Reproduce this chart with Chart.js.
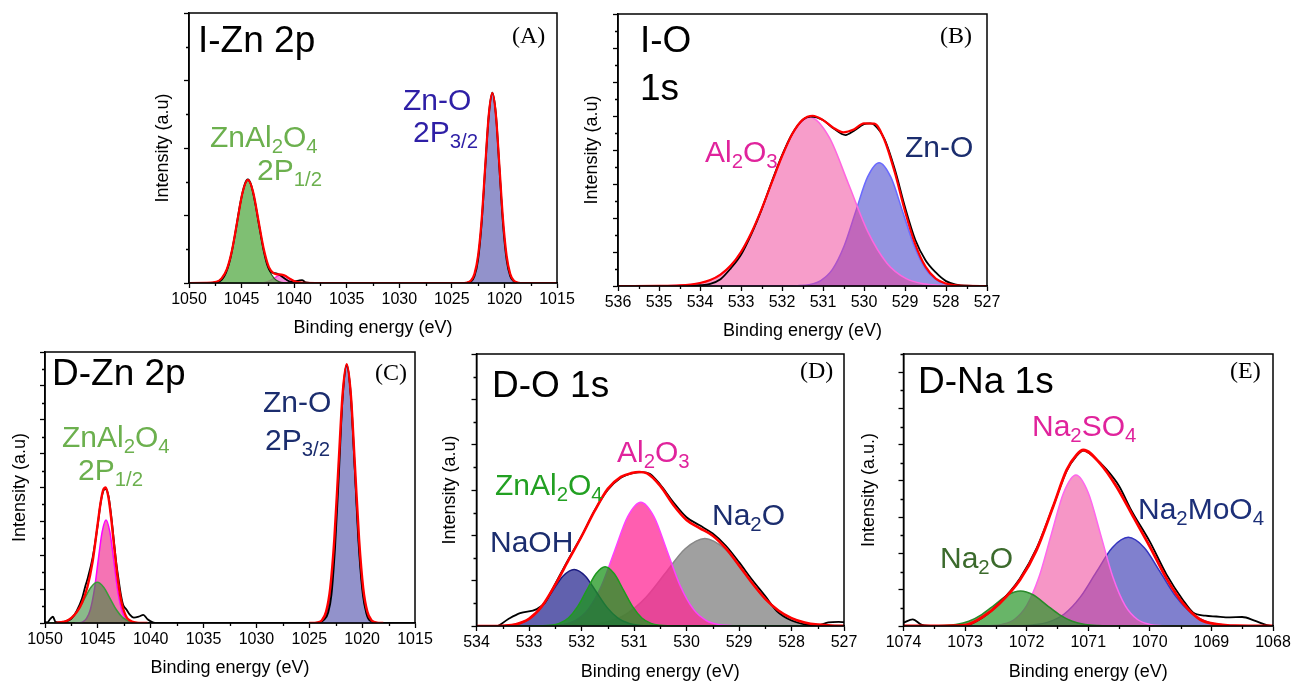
<!DOCTYPE html>
<html><head><meta charset="utf-8">
<script src="https://cdn.jsdelivr.net/npm/chart.js@4/dist/chart.umd.min.js"></script>
<style>
html,body{margin:0;padding:0;background:#fff;width:1293px;height:684px;overflow:hidden}
canvas{position:absolute;left:0;top:0}
</style></head><body>
<canvas id="cA" width="1293" height="684"></canvas>
<canvas id="cB" width="1293" height="684"></canvas>
<canvas id="cC" width="1293" height="684"></canvas>
<canvas id="cD" width="1293" height="684"></canvas>
<canvas id="cE" width="1293" height="684"></canvas>
<script>
// ---------- Panel A : I-Zn 2p (binding energy eV, intensity a.u. as % of frame) ----------
const A_xTicks = [1050,1045,1040,1035,1030,1025,1020,1015];
const A_xMinor = [1047.5,1042.5,1037.5,1032.5,1027.5,1022.5,1017.5];
const A_yTicks = [0,25,50,75,100];
const A_yMinor = [12.5,37.5,62.5,87.5];
const A_ZnAl2O4 = [[1048.4,0],[1047.9,0.1],[1047.4,0.4],[1046.9,1.7],[1046.4,5.1],[1045.9,12.3],[1045.4,23.0],[1044.9,33.5],[1044.4,38],[1043.9,33.5],[1043.4,23.0],[1042.9,12.3],[1042.4,5.1],[1041.9,1.7],[1041.4,0.4],[1040.9,0.1],[1040.4,0]];
const A_minorPeak = [[1043.3,0],[1042.6,0.4],[1041.9,1.8],[1041.55,2.65],[1041.2,3],[1040.85,2.65],[1040.5,1.8],[1039.8,0.4],[1039.1,0]];
const A_ZnO = [[1023.87,0],[1023.53,0.15],[1023.19,0.8],[1022.85,3.1],[1022.51,9.5],[1022.17,22.7],[1021.83,42.5],[1021.49,61.8],[1021.15,70],[1020.81,61.8],[1020.47,42.5],[1020.13,22.7],[1019.79,9.5],[1019.45,3.1],[1019.11,0.8],[1018.77,0.15],[1018.43,0]];
const A_fit = [[1050,0],[1048.4,0.05],[1047.4,0.4],[1046.9,1.7],[1046.4,5.1],[1045.9,12.3],[1045.4,23.1],[1044.9,33.6],[1044.4,38.2],[1043.9,33.7],[1043.4,23.3],[1042.9,12.8],[1042.4,5.9],[1041.9,3.5],[1041.55,3.2],[1041.2,3.1],[1040.85,2.7],[1040.5,1.8],[1039.8,0.4],[1039.1,0.05],[1038,0],[1024.2,0],[1023.53,0.2],[1023.19,0.9],[1022.85,3.4],[1022.51,10.0],[1022.17,23.3],[1021.83,43.0],[1021.49,62.2],[1021.15,70.3],[1020.81,62.2],[1020.47,43.0],[1020.13,23.3],[1019.79,10.0],[1019.45,3.4],[1019.11,0.9],[1018.77,0.2],[1018.1,0],[1015,0]];
const A_data = [[1050,0],[1048,0],[1047.2,0.4],[1046.6,2.8],[1046.1,8.5],[1045.6,18.5],[1045.1,30],[1044.7,36.6],[1044.4,38.4],[1044.1,36.5],[1043.7,29.5],[1043.3,20.5],[1042.9,12],[1042.5,6],[1042.1,3.8],[1041.7,3.6],[1041.3,2.8],[1040.8,1.4],[1040.3,0.5],[1039.6,0.9],[1039.25,1.1],[1038.9,0.2],[1038,0],[1023.6,0],[1023.2,0.5],[1022.85,2.5],[1022.51,8.5],[1022.17,22],[1021.83,42.5],[1021.49,62],[1021.15,70.5],[1020.81,62.5],[1020.47,42],[1020.13,21.5],[1019.79,8.5],[1019.45,2.5],[1019.11,0.6],[1018.7,0],[1015,0]];

// ---------- Panel B : I-O 1s ----------
const B_xTicks = [536,535,534,533,532,531,530,529,528,527];
const B_xMinor = [535.5,534.5,533.5,532.5,531.5,530.5,529.5,528.5,527.5];
const B_yTicks = [0,12.5,25,37.5,50,62.5,75,87.5,100];
const B_yMinor = [6.25,18.75,31.25,43.75,56.25,68.75,81.25,93.75];
const B_Al2O3 = [[536,0],[535.08,0.02],[534.61,0.14],[534.14,0.7],[533.67,2.7],[533.2,8.4],[532.73,20.1],[532.26,37.6],[531.79,54.7],[531.32,62],[530.85,54.7],[530.38,37.6],[529.91,20.1],[529.44,8.4],[528.97,2.7],[528.5,0.7],[528.03,0.14],[527.56,0.02],[527,0]];
const B_ZnO = [[536,0],[532.5,0],[531.91,0.01],[531.625,0.1],[531.34,0.5],[531.055,2.0],[530.77,6.1],[530.485,14.7],[530.2,27.5],[529.915,40.0],[529.63,45.3],[529.345,40.0],[529.06,27.5],[528.775,14.7],[528.49,6.1],[528.205,2.0],[527.92,0.5],[527.635,0.1],[527.35,0.01],[527,0]];
const B_fit = [[536,0],[535,0.03],[534.5,0.2],[534,1.1],[533.75,2.2],[533.5,4.2],[533.25,7.5],[533,12.5],[532.75,19.5],[532.5,28.2],[532.25,38],[532,47.7],[531.75,55.9],[531.5,61.1],[531.25,62.6],[531,61],[530.75,58.2],[530.5,56.5],[530.25,57.5],[530,59.8],[529.75,59.7],[529.5,53.6],[529.25,41.8],[529,27.5],[528.75,15.3],[528.5,7.1],[528.25,2.7],[528,0.9],[527.75,0.2],[527.5,0.05],[527,0]];
const B_data = [[536,0],[534.5,0],[534,0.3],[533.75,0.8],[533.5,2.5],[533.25,6.5],[533,11.5],[532.75,19],[532.5,28],[532.25,38.3],[532,48],[531.75,56],[531.5,61],[531.3,62.3],[531,61],[530.75,58],[530.45,55.5],[530.25,57],[530,59.5],[529.85,59.8],[529.75,59.3],[529.5,54],[529.25,43],[529,29],[528.75,17],[528.5,9.5],[528.25,5],[528,1.8],[527.75,0.5],[527.5,0.1],[527,0]];

// ---------- Panel C : D-Zn 2p ----------
const C_xTicks = [1050,1045,1040,1035,1030,1025,1020,1015];
const C_xMinor = [1047.5,1042.5,1037.5,1032.5,1027.5,1022.5,1017.5];
const C_yTicks = [0,12.5,25,37.5,50,62.5,75,87.5,100];
const C_yMinor = [6.25,18.75,31.25,43.75,56.25,68.75,81.25,93.75];
const C_ZnAl2O4 = [[1049.85,0],[1049.25,0.03],[1048.65,0.17],[1048.05,0.66],[1047.45,2.0],[1046.85,4.9],[1046.25,9.1],[1045.65,13.2],[1045.05,15],[1044.45,13.2],[1043.85,9.1],[1043.25,4.9],[1042.65,2.0],[1042.05,0.66],[1041.45,0.17],[1040.85,0.03],[1040.25,0]];
const C_pink = [[1047.17,0],[1046.8,0.08],[1046.44,0.4],[1046.07,1.7],[1045.7,5.1],[1045.33,12.3],[1044.97,23.0],[1044.6,33.5],[1044.23,38],[1043.86,33.5],[1043.49,23.0],[1043.13,12.3],[1042.76,5.1],[1042.39,1.7],[1042.02,0.4],[1041.66,0.08],[1041.29,0]];
const C_ZnO = [[1024.4,0.03],[1024.03,0.21],[1023.67,1.05],[1023.3,4.2],[1022.93,12.8],[1022.56,30.8],[1022.2,57.5],[1021.83,83.7],[1021.46,94.8],[1021.09,83.7],[1020.73,57.5],[1020.36,30.8],[1019.99,12.8],[1019.62,4.2],[1019.26,1.05],[1018.89,0.21],[1018.52,0.03]];
const C_fitLow = [[1049,0],[1048.5,0.3],[1048,0.7],[1047.5,1.9],[1047,4.0],[1046.5,7.5],[1046,13.1],[1045.5,22.6],[1045,37],[1044.75,44.1],[1044.5,49],[1044.25,50],[1044,46.4],[1043.75,39],[1043.5,29.7],[1043.25,20.5],[1043,12.9],[1042.75,7.4],[1042.5,4.0],[1042.25,1.9],[1042,1.0],[1041.5,0.2],[1041,0.05],[1040.3,0]];
const C_fitHigh = [[1025,0],[1024.58,0.03],[1024.19,0.2],[1023.8,1.06],[1023.41,4.2],[1023.02,12.9],[1022.63,31.0],[1022.24,57.9],[1021.85,84.3],[1021.46,95.5],[1021.07,84.3],[1020.68,57.9],[1020.29,31.0],[1019.9,12.9],[1019.51,4.2],[1019.12,1.06],[1018.73,0.2],[1018.34,0.03],[1018,0]];
const C_dataLow = [[1050,0.5],[1049.8,0.2],[1049.5,1.5],[1049.25,2.3],[1049,0.4],[1048.5,0.2],[1048,0.6],[1047.5,1.6],[1047,4.5],[1046.5,9],[1046.2,13.4],[1046,16],[1045.5,24],[1045,36.5],[1044.75,44],[1044.5,48.5],[1044.3,49.5],[1044,47],[1043.75,40],[1043.5,31],[1043.25,22],[1043,15],[1042.8,10],[1042.6,6.6],[1042.3,5],[1042,3.2],[1041.6,2],[1041.1,2.4],[1040.7,3],[1040.3,1.4],[1039.8,0.2],[1039.5,0]];
const C_dataHigh = [[1024.6,0],[1024.0,0.3],[1023.6,1.2],[1023.2,4],[1022.9,10.5],[1022.56,28],[1022.2,55],[1021.85,83],[1021.46,95.3],[1021.07,84],[1020.7,57],[1020.33,29],[1019.95,11],[1019.6,3.5],[1019.25,0.8],[1019,0.6],[1018.8,0.2],[1018.5,0]];

// ---------- Panel D : D-O 1s ----------
const D_xTicks = [534,533,532,531,530,529,528,527];
const D_xMinor = [533.5,532.5,531.5,530.5,529.5,528.5,527.5];
const D_yTicks = [0,16.67,33.33,50,66.67,83.33,100];
const D_yMinor = [8.33,25,41.67,58.33,75,91.67];
const D_NaOH = [[534,0],[533.82,0],[533.61,0.05],[533.40,0.23],[533.19,0.9],[532.98,2.8],[532.77,6.75],[532.56,12.6],[532.35,18.4],[532.14,20.8],[531.93,18.4],[531.72,12.6],[531.51,6.75],[531.30,2.8],[531.09,0.9],[530.88,0.23],[530.67,0.05],[530.46,0],[527,0]];
const D_ZnAl2O4 = [[534,0],[532.95,0],[532.775,0.05],[532.6,0.24],[532.425,0.96],[532.25,2.95],[532.075,7.1],[531.9,13.2],[531.725,19.2],[531.55,21.8],[531.375,19.2],[531.2,13.2],[531.025,7.1],[530.85,2.95],[530.675,0.96],[530.5,0.24],[530.325,0.05],[530.15,0],[527,0]];
const D_Al2O3 = [[534,0],[532.87,0],[532.62,0.1],[532.37,0.5],[532.12,2.0],[531.87,6.2],[531.62,14.8],[531.37,27.6],[531.12,40.2],[530.87,45.5],[530.62,40.2],[530.37,27.6],[530.12,14.8],[529.87,6.2],[529.62,2.0],[529.37,0.5],[529.12,0.1],[528.87,0],[527,0]];
const D_Na2O = [[534,0],[532.65,0],[532.275,0.07],[531.9,0.36],[531.525,1.4],[531.15,4.4],[530.775,10.5],[530.4,19.5],[530.025,28.4],[529.65,32.2],[529.275,28.4],[528.9,19.5],[528.525,10.5],[528.15,4.4],[527.775,1.4],[527.4,0.36],[527.025,0.07],[527,0.05]];
const D_fit = [[534,0],[533.75,0],[533.5,0.1],[533.25,0.6],[533,2.6],[532.75,7.4],[532.5,15.2],[532.25,24.1],[532,32.9],[531.75,42.3],[531.5,50.4],[531.25,54.8],[531.05,56.2],[530.9,56.6],[530.75,56.1],[530.5,51.5],[530.25,44.5],[530,39],[529.75,36],[529.5,33.2],[529.25,28.5],[529,22.3],[528.75,15.8],[528.5,10],[528.25,5.7],[528,2.9],[527.75,1.3],[527.5,0.5],[527.25,0.2],[527,0.05]];
const D_data = [[534,0],[533.62,0],[533.4,2.5],[533.17,4.7],[532.85,6.2],[532.7,8.5],[532.5,15.5],[532.25,24.5],[532,33],[531.75,42.5],[531.5,50],[531.25,54.5],[531,56.3],[530.85,56.6],[530.7,56],[530.5,52],[530.25,45.5],[530,40],[529.75,37],[529.5,34],[529.25,29.5],[529,23.5],[528.75,17],[528.5,11],[528.28,5.5],[528,2],[527.75,0.6],[527.5,0.2],[527.3,1.3],[527.1,1.5],[527,1.4]];

// ---------- Panel E : D-Na 1s ----------
const E_xTicks = [1074,1073,1072,1071,1070,1069,1068];
const E_xMinor = [1073.5,1072.5,1071.5,1070.5,1069.5,1068.5];
const E_yTicks = [0,13.33,26.67,40,53.33,66.67,80,93.33];
const E_yMinor = [6.67,20,33.33,46.67,60,73.33,86.67,100];
const E_Na2O = [[1074,0],[1073.78,0],[1073.57,0.03],[1073.36,0.14],[1073.15,0.57],[1072.94,1.75],[1072.73,4.2],[1072.52,7.8],[1072.31,11.4],[1072.1,12.9],[1071.89,11.4],[1071.68,7.8],[1071.47,4.2],[1071.26,1.75],[1071.05,0.57],[1070.84,0.14],[1070.63,0.03],[1070.42,0],[1068,0]];
const E_Na2SO4 = [[1074,0],[1072.8,0],[1072.6,0.12],[1072.4,0.6],[1072.2,2.4],[1072.0,7.5],[1071.8,18.0],[1071.6,33.7],[1071.4,49.0],[1071.2,55.5],[1071.0,49.0],[1070.8,33.7],[1070.6,18.0],[1070.4,7.5],[1070.2,2.4],[1070.0,0.6],[1069.8,0.12],[1069.6,0],[1068,0]];
const E_Na2MoO4 = [[1074,0],[1072.43,0],[1072.17,0.07],[1071.91,0.36],[1071.65,1.43],[1071.39,4.4],[1071.13,10.6],[1070.87,19.8],[1070.61,28.8],[1070.35,32.6],[1070.09,28.8],[1069.83,19.8],[1069.57,10.6],[1069.31,4.4],[1069.05,1.43],[1068.79,0.36],[1068.53,0.07],[1068.27,0],[1068,0]];
const E_fit = [[1074,0],[1073.5,0],[1073.2,0.1],[1072.98,0.4],[1072.71,3.4],[1072.44,8.3],[1072.11,16.9],[1071.84,27.9],[1071.57,43.9],[1071.35,57.4],[1071.19,62.9],[1071.08,64.7],[1070.81,59.8],[1070.54,51.2],[1070.27,40.2],[1070.0,29.2],[1069.73,17.5],[1069.46,8.3],[1069.19,2.5],[1068.92,0.7],[1068.6,0.1],[1068,0]];
const E_data = [[1074,1.2],[1073.85,2.4],[1073.7,0.4],[1073.5,0],[1073.0,0.2],[1072.71,3.2],[1072.44,8.5],[1072.11,17.5],[1071.84,28.5],[1071.57,44],[1071.35,57],[1071.19,62.5],[1071.08,64.5],[1070.9,62],[1070.7,57.5],[1070.5,51.5],[1070.3,42.5],[1070.0,31],[1069.73,19],[1069.46,9.5],[1069.3,5],[1069.1,3.8],[1068.92,3.5],[1068.7,3.2],[1068.5,3.3],[1068.3,2.0],[1068.1,0.3],[1068,0]];

// ---------- text labels ----------
const X_TITLE = 'Binding energy (eV)';
const Y_TITLE = 'Intensity (a.u)';
const Y_TITLE_E = 'Intensity (a.u.)';

// ---------- helpers ----------
Chart.defaults.font.family = '"Liberation Sans", Arial, sans-serif';
Chart.defaults.color = '#000';
const SANS = '"Liberation Sans", Arial, sans-serif';
const SERIF = '"Liberation Serif", "Times New Roman", serif';

const deco = {
  id: 'deco',
  afterDraw(chart, args, o) {
    const {ctx, chartArea: a} = chart;
    const xs = chart.scales.x, ys = chart.scales.y;
    ctx.save();
    ctx.strokeStyle = '#000';
    ctx.lineWidth = 1.3;
    ctx.beginPath();
    o.xMinor.forEach(v => { const p = Math.round(xs.getPixelForValue(v)) + 0.5; ctx.moveTo(p, a.bottom); ctx.lineTo(p, a.bottom + 3); });
    o.yMinor.forEach(v => { const p = Math.round(ys.getPixelForValue(v)) + 0.5; ctx.moveTo(a.left, p); ctx.lineTo(a.left - 3, p); });
    ctx.stroke();
    ctx.lineWidth = 1.5;
    ctx.strokeRect(a.left, a.top, a.right - a.left, a.bottom - a.top);
    o.texts.forEach(t => {
      let x = t.x;
      ctx.fillStyle = t.color || '#000';
      ctx.textBaseline = 'alphabetic';
      ctx.textAlign = 'left';
      t.parts.forEach(p => {
        const sub = Array.isArray(p);
        const s = sub ? p[0] : p;
        const size = sub ? t.size * 0.68 : t.size;
        ctx.font = size + 'px ' + (t.serif ? SERIF : SANS);
        ctx.fillText(s, x, t.y + (sub ? t.size * 0.2 : 0));
        x += ctx.measureText(s).width;
      });
    });
    ctx.restore();
  }
};

function ds(pts, line, fill, w, order) {
  return {
    data: pts.map(p => ({x: p[0], y: p[1]})),
    borderColor: line,
    backgroundColor: fill || 'rgba(0,0,0,0)',
    fill: fill ? 'origin' : false,
    borderWidth: w, pointRadius: 0, pointHoverRadius: 0,
    cubicInterpolationMode: 'monotone', order
  };
}

function makePanel(id, g, xr, yr, datasets, texts) {
  const Hx = g.xTitleY + 10.8 - g.B;
  const padL = g.yTitleX - 10.8;
  const Wy = g.L - padL;
  const axisCommon = {
    grid: {drawOnChartArea: false, drawTicks: true, tickLength: 5, tickColor: '#000', tickWidth: 1.3},
    border: {display: true, color: '#000', width: 1.5}
  };
  new Chart(document.getElementById(id), {
    type: 'line',
    data: {datasets},
    options: {
      responsive: false, animation: false, events: [],
      layout: {padding: {left: padL, right: 1293 - g.R, top: g.T, bottom: 684 - g.B - Hx}},
      plugins: {legend: {display: false}, tooltip: {enabled: false},
        deco: {xMinor: xr.minor, yMinor: yr.minor, texts}},
      scales: {
        x: Object.assign({
          type: 'linear', reverse: true, min: xr.min, max: xr.max,
          afterBuildTicks: s => { s.ticks = xr.ticks.map(v => ({value: v})); },
          afterFit: s => { s.height = Hx; },
          ticks: {callback: v => String(v), font: {size: 16}, color: '#000', padding: 2, maxRotation: 0, autoSkip: false},
          title: {display: true, text: X_TITLE, font: {size: 18}, color: '#000', padding: 0}
        }, axisCommon),
        y: Object.assign({
          type: 'linear', min: 0, max: 100,
          afterBuildTicks: s => { s.ticks = yr.ticks.map(v => ({value: v})); },
          afterFit: s => { s.width = Wy; },
          ticks: {display: false},
          title: {display: true, text: g.yTitle, font: {size: 18}, color: '#000', padding: 0}
        }, axisCommon)
      }
    },
    plugins: [deco]
  });
}

const FIT = '#ff0000', DATA = '#000000';
const GREEN_T = '#6cb04e', NAVY_T = '#1b2d6e', MAG_T = '#e0239c';

// Panel A
makePanel('cA', {L: 189, R: 557, T: 13, B: 283, yTitleX: 163, xTitleY: 328, yTitle: Y_TITLE},
  {min: 1015, max: 1050, ticks: A_xTicks, minor: A_xMinor}, {ticks: A_yTicks, minor: A_yMinor},
  [ds(A_fit, FIT, null, 2.2, 0), ds(A_data, DATA, null, 1.8, 1),
   ds(A_ZnAl2O4, '#2e5a24', 'rgba(95,175,80,0.8)', 1.2, 2),
   ds(A_minorPeak, '#ff22dd', 'rgba(240,60,200,0.6)', 1.2, 3),
   ds(A_ZnO, '#1d1d70', 'rgba(110,110,185,0.75)', 1.2, 2)],
  [{x: 198, y: 52, size: 37, parts: ['I-Zn 2p']},
   {x: 512, y: 43, size: 24, serif: true, parts: ['(A)']},
   {x: 403, y: 110, size: 30, color: '#2e1fa6', parts: ['Zn-O']},
   {x: 413, y: 142, size: 30, color: '#2e1fa6', parts: ['2P', ['3/2']]},
   {x: 210, y: 147, size: 30, color: GREEN_T, parts: ['ZnAl', ['2'], 'O', ['4']]},
   {x: 257, y: 180, size: 30, color: GREEN_T, parts: ['2P', ['1/2']]}]);

// Panel B
makePanel('cB', {L: 618, R: 987, T: 14, B: 286, yTitleX: 592, xTitleY: 331, yTitle: Y_TITLE},
  {min: 527, max: 536, ticks: B_xTicks, minor: B_xMinor}, {ticks: B_yTicks, minor: B_yMinor},
  [ds(B_fit, FIT, null, 2.2, 0), ds(B_data, DATA, null, 1.8, 1),
   ds(B_Al2O3, '#ff66e0', 'rgba(240,60,150,0.5)', 1.5, 2),
   ds(B_ZnO, '#6a6aff', 'rgba(60,60,200,0.55)', 1.5, 3)],
  [{x: 640, y: 52, size: 37, parts: ['I-O']},
   {x: 640, y: 100, size: 37, parts: ['1s']},
   {x: 940, y: 43, size: 24, serif: true, parts: ['(B)']},
   {x: 705, y: 162, size: 30, color: MAG_T, parts: ['Al', ['2'], 'O', ['3']]},
   {x: 905, y: 157, size: 30, color: NAVY_T, parts: ['Zn-O']}]);

// Panel C
makePanel('cC', {L: 45, R: 415, T: 352, B: 623, yTitleX: 20, xTitleY: 668, yTitle: Y_TITLE},
  {min: 1015, max: 1050, ticks: C_xTicks, minor: C_xMinor}, {ticks: C_yTicks, minor: C_yMinor},
  [ds(C_fitLow, FIT, null, 2.4, 0), ds(C_fitHigh, FIT, null, 2.4, 0),
   ds(C_dataLow, DATA, null, 1.8, 1), ds(C_dataHigh, DATA, null, 1.8, 1),
   ds(C_ZnAl2O4, '#3a9a3a', 'rgba(60,140,60,0.6)', 1.5, 2),
   ds(C_pink, '#ff00ff', 'rgba(240,40,140,0.65)', 1.5, 3),
   ds(C_ZnO, '#1d1d70', 'rgba(110,110,185,0.75)', 1.2, 2)],
  [{x: 52, y: 385, size: 37, parts: ['D-Zn 2p']},
   {x: 375, y: 380, size: 24, serif: true, parts: ['(C)']},
   {x: 62, y: 447, size: 30, color: GREEN_T, parts: ['ZnAl', ['2'], 'O', ['4']]},
   {x: 78, y: 480, size: 30, color: GREEN_T, parts: ['2P', ['1/2']]},
   {x: 263, y: 412, size: 30, color: NAVY_T, parts: ['Zn-O']},
   {x: 265, y: 450, size: 30, color: NAVY_T, parts: ['2P', ['3/2']]}]);

// Panel D
makePanel('cD', {L: 476.5, R: 844, T: 354, B: 626, yTitleX: 450, xTitleY: 671.7, yTitle: Y_TITLE},
  {min: 527, max: 534, ticks: D_xTicks, minor: D_xMinor}, {ticks: D_yTicks, minor: D_yMinor},
  [ds(D_fit, FIT, null, 2.6, 0), ds(D_data, DATA, null, 1.8, 1),
   ds(D_ZnAl2O4, '#1f9a1f', 'rgba(30,150,30,0.75)', 1.5, 2),
   ds(D_NaOH, '#1a1a80', 'rgba(30,30,140,0.7)', 1.5, 3),
   ds(D_Al2O3, '#ff40ff', 'rgba(255,40,150,0.75)', 1.5, 4),
   ds(D_Na2O, '#888888', 'rgba(120,120,120,0.7)', 1.5, 5)],
  [{x: 492, y: 397, size: 37, parts: ['D-O 1s']},
   {x: 800, y: 378, size: 24, serif: true, parts: ['(D)']},
   {x: 617, y: 462, size: 30, color: MAG_T, parts: ['Al', ['2'], 'O', ['3']]},
   {x: 495, y: 495, size: 30, color: '#22a022', parts: ['ZnAl', ['2'], 'O', ['4']]},
   {x: 490, y: 552, size: 30, color: NAVY_T, parts: ['NaOH']},
   {x: 712, y: 525, size: 30, color: NAVY_T, parts: ['Na', ['2'], 'O']}]);

// Panel E
makePanel('cE', {L: 903.5, R: 1273, T: 354, B: 626, yTitleX: 869, xTitleY: 671.7, yTitle: Y_TITLE_E},
  {min: 1068, max: 1074, ticks: E_xTicks, minor: E_xMinor}, {ticks: E_yTicks, minor: E_yMinor},
  [ds(E_fit, FIT, null, 2.8, 0), ds(E_data, DATA, null, 1.8, 1),
   ds(E_Na2O, '#2a8a2a', 'rgba(40,150,40,0.7)', 1.5, 2),
   ds(E_Na2SO4, '#ff66ee', 'rgba(240,80,160,0.6)', 1.5, 3),
   ds(E_Na2MoO4, '#3535c0', 'rgba(60,60,180,0.65)', 1.5, 4)],
  [{x: 918, y: 393, size: 37, parts: ['D-Na 1s']},
   {x: 1230, y: 378, size: 24, serif: true, parts: ['(E)']},
   {x: 1032, y: 436, size: 30, color: MAG_T, parts: ['Na', ['2'], 'SO', ['4']]},
   {x: 1138, y: 519, size: 30, color: '#1c2f78', parts: ['Na', ['2'], 'MoO', ['4']]},
   {x: 940, y: 568, size: 30, color: '#3b6a2c', parts: ['Na', ['2'], 'O']}]);
</script>
</body></html>
